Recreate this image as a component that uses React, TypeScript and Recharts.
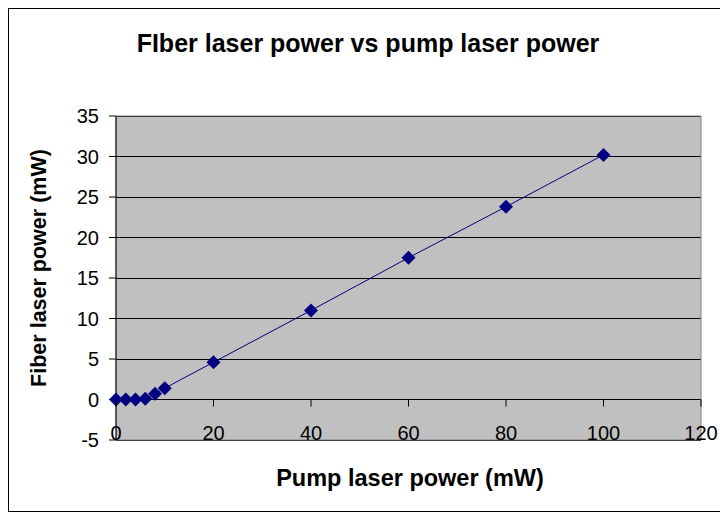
import {
  ScatterChart,
  Scatter,
  XAxis,
  YAxis,
  CartesianGrid,
  ReferenceArea,
} from 'recharts';

// pump power (mW) on x, fiber laser output (mW) on y
const pumpPower = [0, 2, 4, 6, 8, 10, 20, 40, 60, 80, 100];
const fiberPower = [0, 0, 0, 0.1, 0.7, 1.4, 4.6, 11.0, 17.5, 23.8, 30.2];

const xTicks = [0, 20, 40, 60, 80, 100, 120];
const yTicks = [-5, 0, 5, 10, 15, 20, 25, 30, 35];

const W = 718;
const H = 502;
const MARGIN = { top: 107, right: 26, bottom: 41, left: 0 };
const X_AXIS_H = 30;
const Y_AXIS_W = 107;

const FONT = '"Liberation Sans", Arial, sans-serif';
const NAVY = '#000080';

const plotBottom = H - MARGIN.bottom - X_AXIS_H;
const plotHeight = plotBottom - MARGIN.top;
// excel draws the category axis where y = 0
const zeroY = plotBottom - (plotHeight * (0 - yTicks[0])) / (yTicks[yTicks.length - 1] - yTicks[0]);

const data = pumpPower.map((x, i) => ({ x, y: fiberPower[i] }));

function XTick(props: any) {
  const { x, payload } = props;
  return (
    <g>
      <line x1={x} x2={x} y1={zeroY} y2={zeroY + 7} stroke="#000" />
      <text x={x} y={zeroY + 40} textAnchor="middle" fill="#000" fontSize={20} fontFamily={FONT}>
        {payload.value}
      </text>
    </g>
  );
}

function Diamond(props: any) {
  const { cx, cy } = props;
  const r = 7;
  return (
    <polygon
      points={`${cx},${cy - r} ${cx + r},${cy} ${cx},${cy + r} ${cx - r},${cy}`}
      fill={NAVY}
    />
  );
}

export default function App() {
  return (
    <div
      style={{
        position: 'relative',
        width: W,
        height: H,
        border: '1px solid #000',
        fontFamily: FONT,
        background: '#fff',
      }}
    >
      <style>{`.recharts-cartesian-grid line { shape-rendering: crispEdges; }`}</style>
      <div
        style={{
          position: 'absolute',
          top: 22,
          left: 0,
          width: W,
          textAlign: 'center',
          fontSize: 25,
          lineHeight: '25px',
          fontWeight: 'bold',
          whiteSpace: 'nowrap',
        }}
      >
        FIber laser power vs pump laser power
      </div>
      <ScatterChart width={W} height={H} margin={MARGIN}>
        <CartesianGrid vertical={false} stroke="#000" fill="#C0C0C0" fillOpacity={1} />
        <ReferenceArea
          x1={0}
          x2={120}
          y1={-5}
          y2={35}
          fill="none"
          fillOpacity={0}
          stroke="#808080"
          strokeOpacity={1}
        />
        <XAxis
          type="number"
          dataKey="x"
          domain={[0, 120]}
          ticks={xTicks}
          interval={0}
          height={X_AXIS_H}
          axisLine={false}
          tickLine={false}
          tick={<XTick />}
        />
        <YAxis
          type="number"
          dataKey="y"
          domain={[-5, 35]}
          ticks={yTicks}
          interval={0}
          width={Y_AXIS_W}
          axisLine={{ stroke: '#000' }}
          tickLine={{ stroke: '#000' }}
          tickSize={7}
          tickMargin={10}
          tick={{ fill: '#000', fontSize: 20, fontFamily: FONT }}
        />
        <Scatter
          data={data}
          line={{ stroke: NAVY, strokeWidth: 1 }}
          lineType="joint"
          shape={<Diamond />}
          fill={NAVY}
          isAnimationActive={false}
        />
      </ScatterChart>
      <div
        style={{
          position: 'absolute',
          top: 458,
          left: 401,
          transform: 'translateX(-50%)',
          fontSize: 23.5,
          lineHeight: '23.5px',
          fontWeight: 'bold',
          whiteSpace: 'nowrap',
        }}
      >
        Pump laser power (mW)
      </div>
      <div
        style={{
          position: 'absolute',
          top: 259,
          left: 31,
          transform: 'translate(-50%, -50%) rotate(-90deg)',
          fontSize: 21.5,
          lineHeight: '21.5px',
          fontWeight: 'bold',
          whiteSpace: 'nowrap',
        }}
      >
        Fiber laser power (mW)
      </div>
    </div>
  );
}
